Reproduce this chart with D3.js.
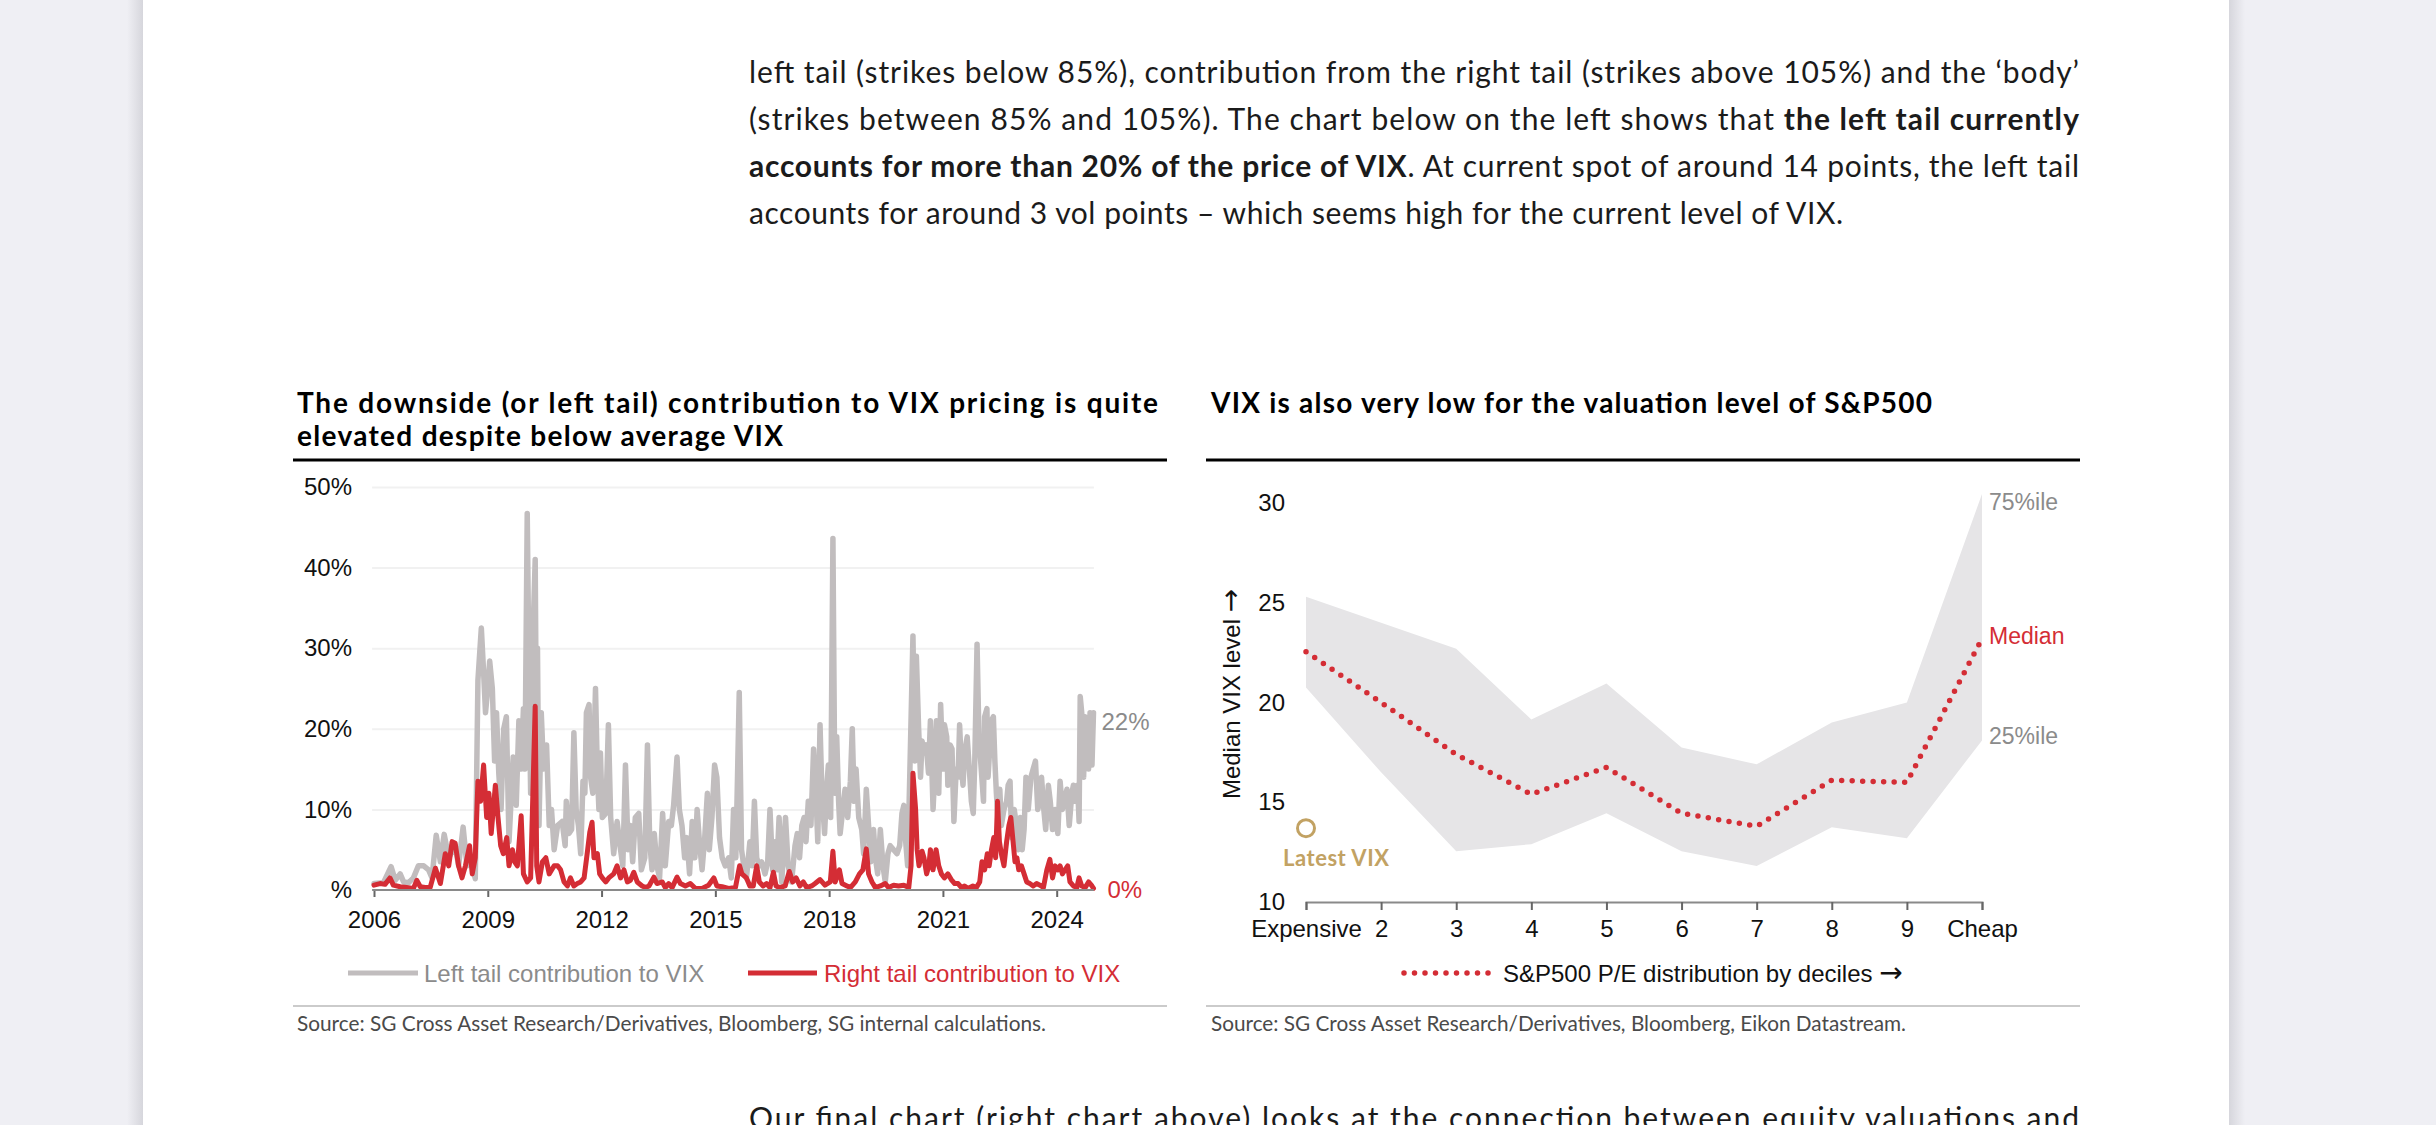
<!DOCTYPE html>
<html>
<head>
<meta charset="utf-8">
<script src="https://cdn.jsdelivr.net/npm/d3@7"></script>
<style>
  body { margin: 0; background: #efeff4; }
  svg { display: block; }
  text { white-space: pre; }
</style>
</head>
<body>
<svg id="page" width="2436" height="1125"></svg>
<script>
// ---- left chart: tail contributions to VIX (% of VIX price)
const leftTail = [
  [2006.00, 0.8], [2006.25, 0.9], [2006.45, 2.9], [2006.56, 1.2], [2006.69, 2.0], [2006.78, 1.0],
  [2006.91, 0.9], [2007.04, 1.5], [2007.17, 3.0], [2007.31, 3.0], [2007.44, 2.5], [2007.53, 1.5],
  [2007.64, 6.8], [2007.75, 3.5], [2007.85, 6.9], [2007.97, 4.0], [2008.14, 5.5], [2008.23, 3.0],
  [2008.35, 7.8], [2008.45, 3.0], [2008.54, 4.0], [2008.67, 1.4], [2008.74, 26], [2008.83, 32.5],
  [2008.89, 27], [2008.94, 22], [2008.98, 24], [2009.05, 28.4], [2009.12, 25], [2009.18, 16],
  [2009.23, 22], [2009.29, 14.5], [2009.35, 10], [2009.42, 20], [2009.49, 21.5], [2009.56, 6],
  [2009.67, 16.5], [2009.75, 10.5], [2009.82, 21], [2009.88, 15], [2009.94, 22.5], [2009.98, 15],
  [2010.04, 46.7], [2010.09, 25], [2010.13, 12], [2010.17, 28], [2010.25, 41], [2010.28, 20],
  [2010.31, 30], [2010.35, 8], [2010.41, 22], [2010.47, 15], [2010.55, 18], [2010.62, 8],
  [2010.68, 10], [2010.75, 5], [2010.84, 8], [2010.96, 8.5], [2011.04, 5.5], [2011.07, 11],
  [2011.14, 7], [2011.21, 7.5], [2011.27, 19.5], [2011.33, 10], [2011.39, 8], [2011.45, 4.5],
  [2011.51, 13.5], [2011.56, 12], [2011.60, 22], [2011.67, 23], [2011.71, 14], [2011.77, 12],
  [2011.84, 25], [2011.89, 14.5], [2011.93, 10], [2011.97, 17], [2012.02, 9], [2012.11, 9.5],
  [2012.18, 20.5], [2012.24, 9], [2012.32, 4.5], [2012.41, 8.5], [2012.50, 5], [2012.56, 3],
  [2012.63, 15.5], [2012.70, 5], [2012.76, 8], [2012.82, 3.5], [2012.89, 9], [2012.98, 9.5],
  [2013.05, 2.5], [2013.14, 4], [2013.21, 18], [2013.27, 6], [2013.33, 2.5], [2013.39, 7],
  [2013.46, 3], [2013.53, 1.5], [2013.61, 9.5], [2013.68, 3], [2013.77, 8.5], [2013.84, 8],
  [2013.90, 10.5], [2013.99, 16.5], [2014.05, 10], [2014.12, 8], [2014.19, 4], [2014.25, 6.5],
  [2014.32, 2], [2014.39, 8.5], [2014.46, 4], [2014.52, 10], [2014.58, 6], [2014.65, 2.5],
  [2014.72, 6.5], [2014.79, 12], [2014.84, 5], [2014.91, 9], [2014.98, 15.5], [2015.04, 14],
  [2015.11, 6.5], [2015.18, 4], [2015.26, 3], [2015.35, 4], [2015.42, 1.5], [2015.48, 10],
  [2015.54, 4], [2015.63, 24.5], [2015.69, 5], [2015.75, 3], [2015.82, 1.5], [2015.91, 6],
  [2015.97, 3], [2016.03, 11], [2016.09, 4], [2016.16, 3], [2016.22, 3.5], [2016.31, 2],
  [2016.38, 3.5], [2016.44, 10], [2016.51, 2.5], [2016.57, 6], [2016.62, 2.5], [2016.68, 9],
  [2016.75, 1], [2016.85, 9], [2016.92, 3], [2017.01, 1], [2017.10, 5.5], [2017.16, 7],
  [2017.22, 4], [2017.28, 8], [2017.34, 9], [2017.39, 6], [2017.45, 11], [2017.52, 8],
  [2017.59, 17.5], [2017.66, 11], [2017.70, 6], [2017.76, 20.5], [2017.81, 12], [2017.88, 7],
  [2017.94, 13], [2017.98, 15.5], [2018.04, 9], [2018.10, 43.6], [2018.15, 12], [2018.20, 19],
  [2018.25, 11], [2018.29, 7], [2018.36, 10], [2018.42, 12.5], [2018.49, 9], [2018.56, 13.5],
  [2018.61, 20], [2018.66, 11], [2018.71, 15], [2018.78, 9], [2018.86, 7.5], [2018.91, 4.5],
  [2018.98, 12.5], [2019.04, 8], [2019.10, 3.5], [2019.17, 7.5], [2019.22, 4], [2019.28, 2],
  [2019.35, 7.5], [2019.42, 3], [2019.48, 1], [2019.55, 4.5], [2019.61, 5.5], [2019.70, 5],
  [2019.79, 4.5], [2019.86, 5.5], [2019.92, 9.5], [2019.97, 10.5], [2020.01, 6.5], [2020.07, 3],
  [2020.13, 15], [2020.21, 31.5], [2020.26, 16], [2020.30, 29], [2020.36, 20], [2020.41, 14],
  [2020.45, 18.5], [2020.50, 17], [2020.56, 18], [2020.62, 14.5], [2020.67, 21], [2020.74, 10],
  [2020.78, 14], [2020.83, 21], [2020.89, 12], [2020.94, 23], [2021.00, 15], [2021.04, 20.5],
  [2021.10, 19], [2021.13, 13], [2021.19, 18], [2021.24, 17.5], [2021.29, 8.5], [2021.35, 15],
  [2021.40, 14], [2021.44, 20.5], [2021.49, 15], [2021.53, 13], [2021.57, 17], [2021.64, 19],
  [2021.71, 14], [2021.75, 11], [2021.80, 9.5], [2021.84, 16], [2021.90, 30.5], [2021.95, 19],
  [2022.01, 15], [2022.07, 11], [2022.10, 21.5], [2022.16, 22.5], [2022.19, 14], [2022.24, 18],
  [2022.28, 21], [2022.33, 21.5], [2022.37, 16], [2022.41, 12], [2022.46, 8], [2022.50, 12.5],
  [2022.54, 8], [2022.61, 10], [2022.68, 11], [2022.72, 13], [2022.77, 13.5], [2022.81, 6.5],
  [2022.88, 10], [2022.94, 8], [2022.99, 5], [2023.04, 9], [2023.09, 5], [2023.14, 7.5],
  [2023.19, 14], [2023.25, 10], [2023.32, 14], [2023.38, 15], [2023.44, 16], [2023.50, 10],
  [2023.56, 11], [2023.60, 14], [2023.66, 10], [2023.71, 7.5], [2023.78, 13], [2023.83, 11],
  [2023.89, 7.5], [2023.96, 10], [2024.03, 7], [2024.09, 13.5], [2024.15, 10], [2024.20, 11],
  [2024.27, 12.5], [2024.33, 8], [2024.40, 12], [2024.44, 13], [2024.49, 11], [2024.55, 13],
  [2024.59, 8.5], [2024.62, 24], [2024.66, 22], [2024.71, 14], [2024.75, 21.5], [2024.80, 18],
  [2024.84, 15], [2024.88, 22], [2024.93, 15.5], [2024.97, 22]
];

const rightTail = [
  [2006.00, 0.6], [2006.16, 0.8], [2006.29, 0.7], [2006.42, 1.5], [2006.51, 0.6], [2006.69, 0.4],
  [2006.86, 0.3], [2007.04, 0.2], [2007.13, 1.2], [2007.22, 0.4], [2007.35, 0.3], [2007.48, 0.3],
  [2007.62, 2.7], [2007.75, 0.8], [2007.88, 4.5], [2007.97, 3.0], [2008.06, 6.0], [2008.14, 5.8],
  [2008.23, 3.0], [2008.32, 1.5], [2008.41, 3.0], [2008.52, 5.5], [2008.59, 2.0], [2008.67, 4.0],
  [2008.74, 13.5], [2008.81, 11], [2008.89, 15.5], [2008.97, 9], [2009.03, 12], [2009.09, 7],
  [2009.20, 13], [2009.27, 9], [2009.34, 5.5], [2009.41, 4.5], [2009.50, 6.5], [2009.56, 3],
  [2009.65, 5], [2009.71, 3.5], [2009.78, 3], [2009.88, 9.2], [2009.94, 2], [2010.04, 1],
  [2010.13, 1.5], [2010.25, 22.8], [2010.29, 3], [2010.35, 1], [2010.44, 3.5], [2010.53, 4],
  [2010.62, 2], [2010.75, 3], [2010.84, 3], [2010.92, 2.5], [2011.01, 1], [2011.10, 0.5],
  [2011.18, 1.5], [2011.27, 0.5], [2011.36, 0.8], [2011.45, 1], [2011.54, 1.5], [2011.62, 4.5],
  [2011.69, 7.2], [2011.75, 8.4], [2011.80, 4], [2011.89, 4.5], [2011.95, 2], [2012.02, 1.5],
  [2012.11, 1], [2012.19, 1.5], [2012.32, 2], [2012.41, 3], [2012.50, 1.5], [2012.59, 2.5],
  [2012.68, 1], [2012.76, 1.2], [2012.85, 2.2], [2012.94, 1], [2013.07, 0.5], [2013.16, 0.3],
  [2013.25, 0.5], [2013.38, 1.6], [2013.46, 0.8], [2013.60, 1], [2013.68, 0.3], [2013.77, 0.8],
  [2013.86, 0.3], [2013.99, 1.6], [2014.08, 0.8], [2014.21, 0.5], [2014.34, 0.8], [2014.47, 0.2],
  [2014.65, 0.2], [2014.82, 0.6], [2014.96, 1.5], [2015.04, 0.5], [2015.18, 0.4], [2015.35, 0.2],
  [2015.53, 0.3], [2015.64, 3], [2015.70, 2], [2015.82, 1.5], [2015.91, 0.5], [2016.00, 0.5],
  [2016.09, 3], [2016.16, 1], [2016.26, 0.5], [2016.35, 0.8], [2016.44, 0.3], [2016.53, 2.2],
  [2016.60, 0.5], [2016.70, 0.3], [2016.84, 0.5], [2016.95, 2.3], [2017.04, 1], [2017.13, 1.5],
  [2017.23, 0.5], [2017.32, 1], [2017.41, 0.3], [2017.54, 0.5], [2017.63, 0.8], [2017.76, 1.3],
  [2017.89, 0.6], [2018.03, 1], [2018.10, 4.8], [2018.16, 1], [2018.27, 2.5], [2018.34, 0.8],
  [2018.47, 0.5], [2018.56, 0.3], [2018.69, 1], [2018.80, 2], [2018.89, 2.5], [2018.98, 5.1],
  [2019.04, 2], [2019.13, 1], [2019.22, 0.3], [2019.35, 0.5], [2019.48, 0.8], [2019.57, 0.3],
  [2019.70, 0.6], [2019.83, 0.5], [2019.97, 0.6], [2020.10, 0.3], [2020.16, 3], [2020.21, 14.5],
  [2020.28, 10], [2020.32, 5], [2020.37, 3], [2020.45, 4.8], [2020.50, 4], [2020.57, 2],
  [2020.63, 3], [2020.67, 5], [2020.74, 2.5], [2020.82, 5], [2020.89, 3], [2020.96, 2],
  [2021.04, 1.5], [2021.13, 2], [2021.22, 1.3], [2021.31, 0.8], [2021.40, 0.8], [2021.49, 0.3],
  [2021.57, 0.5], [2021.66, 0.2], [2021.79, 0.5], [2021.88, 0.3], [2021.97, 1], [2022.03, 3.5],
  [2022.10, 2.5], [2022.17, 4.5], [2022.22, 3], [2022.28, 5], [2022.34, 6.5], [2022.39, 4],
  [2022.44, 11], [2022.49, 6], [2022.54, 4.5], [2022.61, 3], [2022.68, 6], [2022.74, 8],
  [2022.79, 9], [2022.85, 6], [2022.90, 3.5], [2022.95, 4], [2023.00, 2.5], [2023.07, 3],
  [2023.14, 2], [2023.21, 1], [2023.29, 0.8], [2023.38, 0.5], [2023.47, 0.8], [2023.56, 0.6],
  [2023.65, 0.3], [2023.74, 2.5], [2023.82, 3.8], [2023.89, 1.5], [2023.96, 3], [2024.03, 2.5],
  [2024.09, 3], [2024.15, 2], [2024.22, 2.5], [2024.29, 3], [2024.35, 1], [2024.44, 0.5],
  [2024.53, 0.3], [2024.59, 1.5], [2024.66, 0.5], [2024.75, 0.3], [2024.84, 1], [2024.93, 0.5],
  [2024.97, 0.2]
];

const yearTicks = [2006, 2009, 2012, 2015, 2018, 2021, 2024];
const pctTicks = [0, 10, 20, 30, 40, 50];
const lastLeft = '22%';
const lastRight = '0%';

// ---- right chart: VIX by S&P500 P/E decile
const deciles = [1, 2, 3, 4, 5, 6, 7, 8, 9, 10];
const decileLabels = ['Expensive', '2', '3', '4', '5', '6', '7', '8', '9', 'Cheap'];
const vixP75 = [25.3, 24.0, 22.7, 19.15, 20.95, 17.75, 16.9, 19.0, 20.0, 30.45];
const vixMedian = [22.55, 20.0, 17.4, 15.4, 16.75, 14.45, 13.8, 16.1, 16.0, 23.2];
const vixP25 = [20.75, 16.5, 12.55, 12.9, 14.45, 12.55, 11.8, 13.75, 13.2, 18.1];
const vixTicks = [10, 15, 20, 25, 30];
const latestVix = 13.7;

const BODY_FONT = 'Lato, "Noto Sans", sans-serif';
const CHART_FONT = '"Liberation Sans", Arial, sans-serif';
const ARROW_FONT = '"DejaVu Sans", sans-serif';
const RED = '#d42d35';
const GREY_LINE = '#c1bdbe';
const GREY_TEXT = '#8b8b8b';
const GOLD = '#c2a263';

const svg = d3.select('#page');

// stretch a line of text to the width it has in the report
function fitWidth (text, width) {
  const natural = text.node().getComputedTextLength();
  text.attr('textLength', width)
    .attr('lengthAdjust', natural < width ? 'spacing' : 'spacingAndGlyphs');
}

function writeLine (parent, x, y, parts, opts) {
  const t = parent.append('text')
    .attr('x', x).attr('y', y)
    .attr('font-family', opts.font || BODY_FONT)
    .attr('font-size', opts.size)
    .attr('fill', opts.color || '#1b1b1b')
    .attr('font-weight', opts.bold ? 700 : 400);
  parts.forEach(p => {
    t.append('tspan').attr('font-weight', p.b ? 700 : null).text(p.t);
  });
  if (opts.width) fitWidth(t, opts.width);
  return t;
}

// label ending with an arrow: the chart font has no proper arrow glyph
function arrowLabel (text, label) {
  text.append('tspan').text(label + ' ');
  text.append('tspan').attr('font-family', ARROW_FONT).attr('font-size', 28).text('→');
  return text;
}

// ---- page
const defs = svg.append('defs');
const shade = defs.append('linearGradient').attr('id', 'shadeL');
shade.append('stop').attr('offset', 0).attr('stop-color', '#efeff4');
shade.append('stop').attr('offset', 1).attr('stop-color', '#d6d6dc');
const shadeR = defs.append('linearGradient').attr('id', 'shadeR');
shadeR.append('stop').attr('offset', 0).attr('stop-color', '#d6d6dc');
shadeR.append('stop').attr('offset', 1).attr('stop-color', '#efeff4');

svg.append('rect').attr('width', 2436).attr('height', 1125).attr('fill', '#efeff4');
svg.append('rect').attr('x', 127).attr('width', 16).attr('height', 1125).attr('fill', 'url(#shadeL)');
svg.append('rect').attr('x', 2229).attr('width', 16).attr('height', 1125).attr('fill', 'url(#shadeR)');
svg.append('rect').attr('x', 143).attr('width', 2086).attr('height', 1125).attr('fill', '#fff');

// ---- body text (the last line is cut by the bottom edge, as in the report)
const paragraph = [
  { y: 83, w: 1330, parts: [{ t: 'left tail (strikes below 85%), contribution from the right tail (strikes above 105%) and the ‘body’' }] },
  { y: 130, w: 1330, parts: [{ t: '(strikes between 85% and 105%). The chart below on the left shows that ' }, { t: 'the left tail currently', b: true }] },
  { y: 177, w: 1330, parts: [{ t: 'accounts for more than 20% of the price of VIX', b: true }, { t: '. At current spot of around 14 points, the left tail' }] },
  { y: 224, w: 1094, parts: [{ t: 'accounts for around 3 vol points – which seems high for the current level of VIX.' }] },
  { y: 1129, w: 1330, parts: [{ t: 'Our final chart (right chart above) looks at the connection between equity valuations and' }] }
];
paragraph.forEach(l => writeLine(svg, 749, l.y, l.parts, { size: 30, width: l.w }));

// ---- chart headers, rules and sources
writeLine(svg, 297, 413, [{ t: 'The downside (or left tail) contribution to VIX pricing is quite' }], { size: 28, bold: true, color: '#000', width: 861 });
writeLine(svg, 297, 446, [{ t: 'elevated despite below average VIX' }], { size: 28, bold: true, color: '#000', width: 486 });
writeLine(svg, 1211, 413, [{ t: 'VIX is also very low for the valuation level of S&P500' }], { size: 28, bold: true, color: '#000', width: 721 });

[[293, 1167], [1206, 2080]].forEach(([a, b]) => {
  svg.append('line').attr('x1', a).attr('x2', b).attr('y1', 460).attr('y2', 460)
    .attr('stroke', '#000').attr('stroke-width', 3.2);
  svg.append('line').attr('x1', a).attr('x2', b).attr('y1', 1006).attr('y2', 1006)
    .attr('stroke', '#cbcbcb').attr('stroke-width', 2);
});
writeLine(svg, 297, 1031, [{ t: 'Source: SG Cross Asset Research/Derivatives, Bloomberg, SG internal calculations.' }], { size: 21, color: '#4a4a4a', width: 749 });
writeLine(svg, 1211, 1031, [{ t: 'Source: SG Cross Asset Research/Derivatives, Bloomberg, Eikon Datastream.' }], { size: 21, color: '#4a4a4a', width: 695 });

// ---- left chart
const x = d3.scaleLinear().domain([2006, 2024]).range([374, 1056.7]);
const y = d3.scaleLinear().domain([0, 50]).range([890, 487]);
const left = svg.append('g').attr('font-family', CHART_FONT);

left.append('g')
  .attr('transform', `translate(${x(2005.95)},0)`)
  .call(d3.axisLeft(y).tickValues(pctTicks.slice(1)).tickSize(-(x(2024.98) - x(2005.95))).tickFormat(''))
  .call(g => g.select('.domain').remove())
  .call(g => g.selectAll('line').attr('stroke', '#f1f1f1').attr('stroke-width', 2));

left.append('g')
  .attr('transform', 'translate(352,0)')
  .call(d3.axisLeft(y).tickValues(pctTicks).tickSize(0).tickPadding(0)
    .tickFormat(d => d === 0 ? '%' : d + '%'))
  .call(g => g.select('.domain').remove())
  .call(g => g.selectAll('text').attr('font-size', 24).attr('fill', '#111').attr('font-family', CHART_FONT));

const line = d3.line().x(d => x(d[0])).y(d => y(d[1]));
left.append('path').datum(leftTail).attr('d', line)
  .attr('fill', 'none').attr('stroke', GREY_LINE).attr('stroke-width', 5.5)
  .attr('stroke-linejoin', 'round').attr('stroke-linecap', 'round');
left.append('path').datum(rightTail).attr('d', line)
  .attr('fill', 'none').attr('stroke', RED).attr('stroke-width', 5)
  .attr('stroke-linejoin', 'round').attr('stroke-linecap', 'round');

left.append('g')
  .attr('transform', `translate(0,${y(0)})`)
  .call(d3.axisBottom(x).tickValues(yearTicks).tickSize(7).tickPadding(14).tickFormat(d3.format('d')))
  .call(g => g.select('.domain').remove())
  .call(g => g.selectAll('line').attr('stroke', '#666').attr('stroke-width', 2))
  .call(g => g.selectAll('text').attr('font-size', 24).attr('fill', '#111').attr('font-family', CHART_FONT));
left.append('line')
  .attr('x1', x(2005.95)).attr('x2', x(2024.98)).attr('y1', y(0)).attr('y2', y(0))
  .attr('stroke', '#8a8a8a').attr('stroke-width', 2);

const lastL = leftTail[leftTail.length - 1];
const lastR = rightTail[rightTail.length - 1];
left.append('text').attr('x', x(lastL[0]) + 8).attr('y', y(lastL[1]) + 17)
  .attr('font-size', 24).attr('fill', GREY_TEXT).text(lastLeft);
left.append('text').attr('x', x(lastR[0]) + 14).attr('y', y(0) + 8)
  .attr('font-size', 24).attr('fill', RED).text(lastRight);

const legend = [
  { x1: 348, x2: 418, tx: 424, color: GREY_LINE, text: GREY_TEXT, label: 'Left tail contribution to VIX' },
  { x1: 748, x2: 817, tx: 824, color: RED, text: RED, label: 'Right tail contribution to VIX' }
];
legend.forEach(l => {
  left.append('line').attr('x1', l.x1).attr('x2', l.x2).attr('y1', 973).attr('y2', 973)
    .attr('stroke', l.color).attr('stroke-width', 5);
  left.append('text').attr('x', l.tx).attr('y', 982).attr('font-size', 24)
    .attr('fill', l.text).text(l.label);
});

// ---- right chart
const xd = d3.scaleLinear().domain([1, 10]).range([1306, 1982]);
const yv = d3.scaleLinear().domain([10, 30]).range([902, 503]);
const right = svg.append('g').attr('font-family', CHART_FONT);

const area = d3.area().x((d, i) => xd(deciles[i])).y0((d, i) => yv(vixP25[i])).y1(d => yv(d));
right.append('path').datum(vixP75).attr('d', area).attr('fill', '#e6e5e7');

const medianLine = d3.line().x((d, i) => xd(deciles[i])).y(d => yv(d));
right.append('path').datum(vixMedian).attr('d', medianLine)
  .attr('fill', 'none').attr('stroke', RED).attr('stroke-width', 5.5)
  .attr('stroke-linecap', 'round').attr('stroke-dasharray', '0 10.5');

right.append('g')
  .attr('transform', 'translate(1285,0)')
  .call(d3.axisLeft(yv).tickValues(vixTicks).tickSize(0).tickPadding(0))
  .call(g => g.select('.domain').remove())
  .call(g => g.selectAll('text').attr('font-size', 24).attr('fill', '#111').attr('font-family', CHART_FONT));

right.append('g')
  .attr('transform', `translate(0,${yv(10)})`)
  .call(d3.axisBottom(xd).tickValues(deciles).tickSize(8).tickPadding(10)
    .tickFormat((d, i) => decileLabels[i]))
  .call(g => g.select('.domain').attr('stroke', '#8a8a8a').attr('stroke-width', 2))
  .call(g => g.selectAll('line').attr('stroke', '#666').attr('stroke-width', 2))
  .call(g => g.selectAll('text').attr('font-size', 24).attr('fill', '#111').attr('font-family', CHART_FONT));

arrowLabel(right.append('text')
  .attr('transform', 'translate(1240,694) rotate(-90)')
  .attr('text-anchor', 'middle').attr('font-size', 24).attr('fill', '#111'), 'Median VIX level');

const bandLabels = [
  { v: vixP75[9], label: '75%ile', color: GREY_TEXT, dy: 16 },
  { v: vixMedian[9], label: 'Median', color: RED, dy: 5 },
  { v: vixP25[9], label: '25%ile', color: GREY_TEXT, dy: 4 }
];
bandLabels.forEach(b => {
  right.append('text').attr('x', xd(10) + 7).attr('y', yv(b.v) + b.dy)
    .attr('font-size', 23).attr('fill', b.color).text(b.label);
});

right.append('circle').attr('cx', xd(1)).attr('cy', yv(latestVix)).attr('r', 8.5)
  .attr('fill', '#fff').attr('stroke', GOLD).attr('stroke-width', 3);
writeLine(right, 1283, 866, [{ t: 'Latest VIX' }], { size: 22, bold: true, color: GOLD, width: 106 });

right.append('line').attr('x1', 1404).attr('x2', 1492).attr('y1', 973).attr('y2', 973)
  .attr('stroke', RED).attr('stroke-width', 5.5).attr('stroke-linecap', 'round')
  .attr('stroke-dasharray', '0 10.5');
arrowLabel(right.append('text').attr('x', 1503).attr('y', 982).attr('font-size', 24).attr('fill', '#111'),
  'S&P500 P/E distribution by deciles');
</script>
</body>
</html>
